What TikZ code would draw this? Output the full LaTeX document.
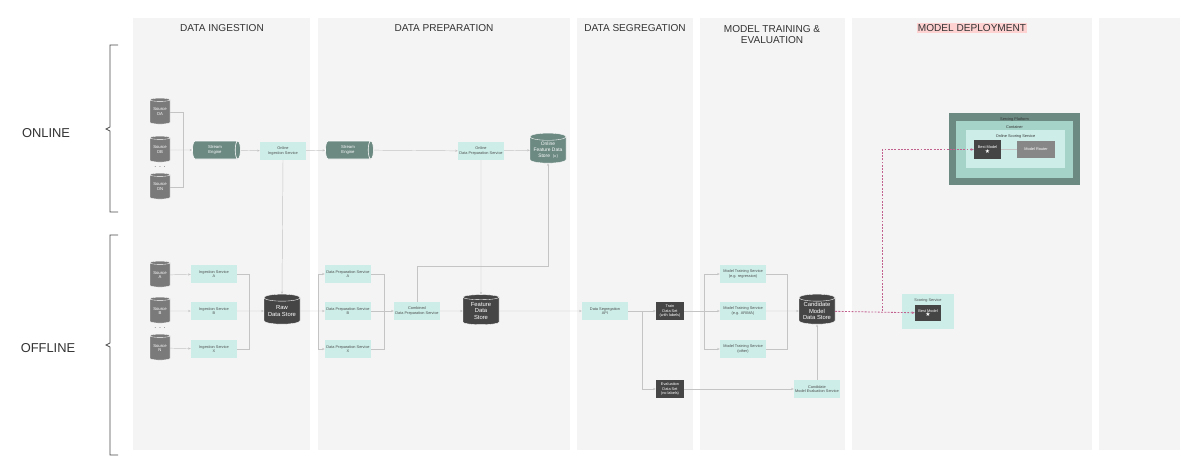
\documentclass[tikz,border=0pt]{standalone}
\usepackage{fontspec}
\setmainfont{Liberation Sans}
\newfontfamily\djfont{DejaVu Sans}
\usetikzlibrary{shapes.geometric,arrows.meta,decorations.pathreplacing}
\definecolor{panel}{HTML}{F4F4F4}
\definecolor{svc}{HTML}{CDEEE8}
\definecolor{green}{HTML}{6D8A82}
\definecolor{srcg}{HTML}{7A7A7A}
\definecolor{dark}{HTML}{454545}
\definecolor{ln}{HTML}{C4C4C4}
\definecolor{pinkl}{HTML}{C2608E}
\definecolor{cont}{HTML}{A6D3C8}
\tikzset{
 tiny/.style={font=\fontsize{3.3}{3.9}\selectfont, align=center},
 svcbox/.style={tiny, fill=svc, minimum width=1.38cm, minimum height=0.54cm, inner sep=0pt, text=black!70},
 darkbox/.style={tiny, fill=dark, text=white, minimum width=0.84cm, minimum height=0.54cm, inner sep=0pt},
 srccyl/.style={cylinder, shape border rotate=90, aspect=0.25, fill=srcg, draw=white, line width=0.3pt, minimum width=0.6cm, minimum height=0.78cm, inner sep=0pt, font=\fontsize{3.6}{4.2}\selectfont, align=center, text=white},
 storecyl/.style={cylinder, shape border rotate=90, aspect=0.25, fill=dark, draw=white, line width=0.3pt, minimum width=1.08cm, minimum height=0.9cm, inner sep=0pt, font=\fontsize{5}{5.6}\selectfont, align=center, text=white},
 enginecyl/.style={cylinder, aspect=0.6, fill=green, draw=white, line width=0.5pt, minimum width=0.54cm, minimum height=1.44cm, inner sep=0pt, font=\fontsize{3.6}{4.2}\selectfont, align=center, text=white},
 conn/.style={draw=ln, line width=0.4pt},
 arr/.style={conn, -{Stealth[length=2.2pt,width=1.8pt]}},
 darr/.style={draw=pinkl, line width=0.7pt, dash pattern=on 1.6pt off 1.2pt, -{Stealth[length=2.6pt,width=2.2pt]}},
 hdr/.style={font=\fontsize{8.6}{10}\selectfont, text=black!80, align=center},
 side/.style={font=\fontsize{11}{13}\selectfont, text=black!80},
}
\begin{document}
\begin{tikzpicture}[x=0.03cm,y=-0.03cm]
\useasboundingbox (0,0) rectangle (1200,474);
\fill[white] (0,0) rectangle (1200,474);
% panels
\foreach \a/\b in {133/310,318/570,577/693,700/845,852/1092,1099/1180}
  \fill[panel] (\a,18) rectangle (\b,450);
\node[hdr] (h1) at (222,28) {DATA INGESTION};
\node[hdr] (h2) at (444,28) {DATA PREPARATION};
\node[hdr] (h3) at (635,28) {DATA SEGREGATION};
\node[hdr, anchor=north] (h4) at (772,21) {MODEL TRAINING \&\\EVALUATION};
\node[hdr, fill=pink!70, inner sep=1pt] (h5) at (972,28) {MODEL DEPLOYMENT};
% braces
\draw[black!70, line width=0.6pt] (118,45) -- (110,45) -- (110,127) -- (106,129) -- (110,131) -- (110,212) -- (118,212);
\draw[black!70, line width=0.6pt] (118,235) -- (110,235) -- (110,343) -- (106,345) -- (110,347) -- (110,455) -- (118,455);
\node[side] (onl) at (46,133) {ONLINE};
\node[side] (offl) at (48,348) {OFFLINE};
% online sources
\node[srccyl] (oa) at (160,112) {Source\\OA};
\node[srccyl] (ob) at (160,150) {Source\\OB};
\node[srccyl] (on) at (160,187) {Source\\ON};
\node[font=\fontsize{6}{6}\selectfont, text=black!70] (d1) at (160,167) {. . .};
\node[enginecyl] (se1) at (215,150) {Stream\\Engine};
\node[svcbox] (oing) at (283,151) {Online\\Ingestion Service};
\node[enginecyl] (se2) at (348,150) {Stream\\Engine};
\node[svcbox] (oprep) at (481,151) {Online\\Data Preparation Service};
\node[cylinder, shape border rotate=90, aspect=0.25, fill=green, draw=white, line width=0.3pt, minimum width=1.08cm, minimum height=0.9cm, inner sep=0pt, font=\fontsize{4.2}{4.8}\selectfont, align=center, text=white] (ofds) at (548,150) {Online\\Feature Data\\Store~~{\djfont\fontsize{3}{3}\selectfont[x]}};
\coordinate (j1) at (183,150);
\draw[conn] (oa.east) -| (j1);
\draw[conn] (on.east) -| (j1);
\draw[arr] (ob) -- (se1);
\draw[arr] (se1) -- (oing);
\draw[arr] (oing) -- (se2);
\draw[arr] (se2) -- (oprep);
\draw[arr] (oprep) -- (ofds);
% offline sources
\node[srccyl] (sa) at (160,275) {Source\\A};
\node[srccyl] (sb) at (160,311) {Source\\B};
\node[srccyl] (sn) at (160,348) {Source\\N};
\node[font=\fontsize{6}{6}\selectfont, text=black!70] (d2) at (160,328) {. . .};
\node[svcbox] (ia) at (214,274) {Ingestion Service\\A};
\node[svcbox] (ib) at (214,311) {Ingestion Service\\B};
\node[svcbox] (ix) at (214,349) {Ingestion Service\\X};
\node[storecyl] (raw) at (282,311) {Raw\\Data Store};
\draw[arr] (sa) -- (ia);
\draw[arr] (sb) -- (ib);
\draw[arr] (sn) -- (ix);
\coordinate (j2) at (249,311);
\draw[conn] (ia.east) -| (j2);
\draw[conn] (ix.east) -| (j2);
\draw[arr] (ib) -- (raw);
\draw[arr] (oing.south) -- (raw.north);
% prep
\node[svcbox] (pa) at (348,274) {Data Preparation Service\\A};
\node[svcbox] (pb) at (348,311) {Data Preparation Service\\B};
\node[svcbox] (px) at (348,349) {Data Preparation Service\\X};
\node[svcbox] (comb) at (417,311) {Combined\\Data Preparation Service};
\node[storecyl] (fds) at (481,311) {Feature\\Data\\Store};
\coordinate (j3) at (318,311);
\draw[arr] (raw) -- (pb);
\draw[arr] (j3) |- (pa);
\draw[arr] (j3) |- (px);
\coordinate (j4) at (384,311);
\draw[conn] (pa.east) -| (j4);
\draw[conn] (px.east) -| (j4);
\draw[arr] (pb) -- (comb);
\draw[arr] (comb) -- (fds);
\draw[arr] (oprep.south) -- (fds.north);
\coordinate (c1) at (548,266);
\draw[arr] (comb.north) |- (c1) -- (ofds.south);
% segregation
\node[svcbox] (seg) at (605,311) {Data Segregation\\API};
\node[darkbox] (train) at (670,311) {Train\\Data Set\\(with labels)};
\node[darkbox] (eval) at (670,389) {Evaluation\\Data Set\\(no labels)};
\draw[arr] (fds) -- (seg);
\draw[arr] (seg) -- (train);
\coordinate (j5) at (642,311);
\draw[arr] (j5) |- (eval);
% training
\node[svcbox] (ma) at (743,274) {Model Training Service\\(e.g. regression)};
\node[svcbox] (mb) at (743,311) {Model Training Service\\(e.g. ARIMA)};
\node[svcbox] (mx) at (743,349) {Model Training Service\\(other)};
\node[storecyl] (cand) at (817,311) {Candidate\\Model\\Data Store};
\node[svcbox] (ceval) at (817,389) {Candidate\\Model Evaluation Service};
\coordinate (j6) at (704,311);
\draw[arr] (train) -- (mb);
\draw[arr] (j6) |- (ma);
\draw[arr] (j6) |- (mx);
\coordinate (j7) at (787,311);
\draw[conn] (ma.east) -| (j7);
\draw[conn] (mx.east) -| (j7);
\draw[arr] (mb) -- (cand);
\draw[arr] (eval) -- (ceval);
\draw[arr] (ceval.north) -- (cand.south);
% deployment
\node[tiny, fill=svc, minimum width=1.56cm, minimum height=1.05cm, anchor=north, text=black!70, inner sep=1pt] (score) at (928,294) {};
\node[tiny, anchor=north, text=black!70] (scl) at (928,295) {Scoring Service};
\node[darkbox, minimum width=0.78cm, minimum height=0.5cm] (bm2) at (928,313) {Best Model\\{\djfont\fontsize{5}{5}\selectfont ★}};
\node[fill=green, minimum width=3.93cm, minimum height=2.16cm, inner sep=0pt] (sp) at (1014.5,149) {};
\node[tiny, anchor=north, text=black!80] (spl) at (1014.5,114) {Serving Platform};
\node[fill=cont, minimum width=3.51cm, minimum height=1.71cm, inner sep=0pt] (ct) at (1014.5,149.5) {};
\node[tiny, anchor=north, text=black!80] (ctl) at (1014.5,122) {Container};
\node[fill=svc, minimum width=2.97cm, minimum height=1.14cm, inner sep=0pt] (oss) at (1015.5,149) {};
\node[tiny, anchor=north, text=black!80] (ossl) at (1015.5,131) {Online Scoring Service};
\node[darkbox, minimum width=0.81cm, minimum height=0.57cm] (bm1) at (987.5,149.5) {Best Model\\{\djfont\fontsize{5}{5}\selectfont ★}};
\node[tiny, fill=srcg!90, text=white, minimum width=1.14cm, minimum height=0.51cm] (mr) at (1036,149.5) {Model Router};
\draw[conn] (bm1) -- (mr);
\draw[darr] (cand) -- (bm2);
\coordinate (j8) at (882,311);
\draw[darr] (j8) |- (bm1.west);
\end{tikzpicture}
\end{document}
